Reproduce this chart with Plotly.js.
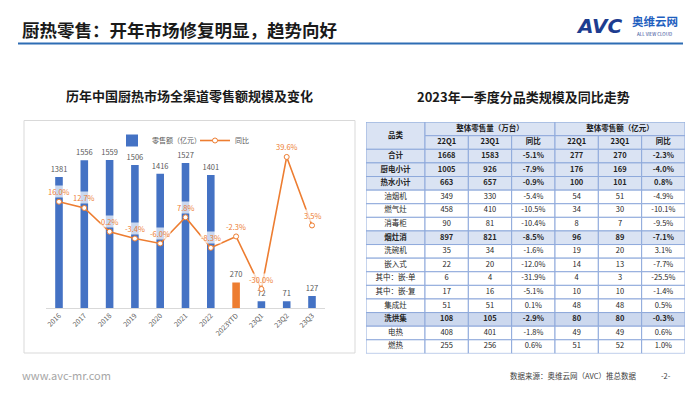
<!DOCTYPE html>
<html><head><meta charset="utf-8">
<script src="https://cdn.plot.ly/plotly-3.0.1.min.js"></script>
<style>html,body{margin:0;padding:0;background:#fff}#chart{width:700px;height:394px}</style>
</head><body><div id="chart"></div>
<script>
// ---------- chart data ----------
const periods = ['2016','2017','2018','2019','2020','2021','2022','2023YTD','23Q1','23Q2','23Q3'];
const retailSales = [1381,1556,1559,1506,1416,1527,1401,270,72,71,127];
const yoyGrowth = [0.160,0.127,0.002,-0.034,-0.060,0.078,-0.083,-0.023,-0.300,0.396,0.035];

// ---------- table data ----------
const tableCategories = ['合计','厨电小计','热水小计','油烟机','燃气灶','消毒柜','烟灶消','洗碗机','嵌入式','其中：嵌-单','其中：嵌-复','集成灶','洗烘集','电热','燃热'];
const volume22Q1 = [1668,1005,663,349,458,90,897,35,22,6,17,51,108,408,255];
const volume23Q1 = [1583,926,657,330,410,81,821,34,20,4,16,51,105,401,256];
const volumeYoY  = [-5.1,-7.9,-0.9,-5.4,-10.5,-10.4,-8.5,-1.6,-12.0,-31.9,-5.1,0.1,-2.9,-1.8,0.6];
const amount22Q1 = [277,176,100,54,34,8,96,19,14,4,10,48,80,49,51];
const amount23Q1 = [270,169,101,51,30,7,89,20,13,3,10,48,80,49,52];
const amountYoY  = [-2.3,-4.0,0.8,-4.9,-10.1,-9.5,-7.1,3.1,-7.7,-25.5,-1.4,0.5,-0.3,0.6,1.0];
const headerGroups = ['整体零售量（万台）','整体零售额（亿元）'];
const subHeaders = ['22Q1','23Q1','同比'];
const firstHeader = '品类';

// ---------- styling ----------
const W = 700, H = 394;
const fx = x => x / W, fy = y => 1 - y / H;
const FONT = '"Noto Sans CJK SC", "Noto Sans", sans-serif';
const BLUE = '#4472C4', ORANGE = '#ED7D31';
const highlightRows = new Set(['合计','厨电小计','热水小计','烟灶消','洗烘集']);
const strongRow = '洗烘集';
const HEAD_FILL = '#DAE3F3', HI_FILL = '#DAE3F3', STRONG_FILL = '#CCD8EE', BORDER = '#8EA9DB';
const colWidths = [59,43.33,43.33,43.33,43.33,43.33,43.33];
const colEdges = [0]; colWidths.forEach(w => colEdges.push(colEdges[colEdges.length-1] + w));

const pct = v => v.toFixed(1) + '%';

// ---------- chart traces ----------
const barTrace = {
  type:'bar', x:periods, y:retailSales, name:'零售额（亿元）',
  marker:{color: periods.map(p => p === '2023YTD' ? ORANGE : BLUE)},
  text: retailSales.map(String), textposition:'outside', cliponaxis:false, constraintext:'none',
  textfont:{size:7.5, color:'#595959', family:FONT}, hoverinfo:'skip'
};
const lineTrace = {
  type:'scatter', mode:'lines+markers', x:periods, y:yoyGrowth, yaxis:'y2', name:'同比',
  line:{color:ORANGE, width:1.6},
  marker:{symbol:'circle', size:5, color:'#ffffff', line:{color:ORANGE, width:1}},
  cliponaxis:false, hoverinfo:'skip'
};

// ---------- table traces (cells placed through hidden axes x2/y3) ----------
const columns = [
  tableCategories.map(String),
  volume22Q1.map(String), volume23Q1.map(String), volumeYoY.map(pct),
  amount22Q1.map(String), amount23Q1.map(String), amountYoY.map(pct)
];
const cellX = [], cellY = [], cellText = [];
tableCategories.forEach((cat, r) => {
  columns.forEach((col, c) => {
    cellX.push((colEdges[c] + colEdges[c+1]) / 2);
    cellY.push(r + 2.5);
    cellText.push(highlightRows.has(cat) ? '<b>' + col[r] + '</b>' : col[r]);
  });
});
const cellTrace = {
  type:'scatter', mode:'text', x:cellX, y:cellY, text:cellText, xaxis:'x2', yaxis:'y3',
  textposition:'middle center', textfont:{size:7.5, color:'#262626', family:FONT},
  showlegend:false, hoverinfo:'skip', cliponaxis:false
};
const hx = [], hy = [], ht = [];
hx.push((colEdges[0]+colEdges[1])/2); hy.push(1); ht.push('<b>'+firstHeader+'</b>');
headerGroups.forEach((g, gi) => {
  hx.push((colEdges[1+gi*3] + colEdges[4+gi*3]) / 2); hy.push(0.5); ht.push('<b>'+g+'</b>');
  subHeaders.forEach((s, si) => {
    const c = 1 + gi*3 + si;
    hx.push((colEdges[c]+colEdges[c+1])/2); hy.push(1.5); ht.push('<b>'+s+'</b>');
  });
});
const headerTrace = {
  type:'scatter', mode:'text', x:hx, y:hy, text:ht, xaxis:'x2', yaxis:'y3',
  textposition:'middle center', textfont:{size:7.5, color:'#1a1a1a', family:FONT},
  showlegend:false, hoverinfo:'skip', cliponaxis:false
};

// ---------- shapes ----------
const shapes = [];
shapes.push({type:'line', xref:'paper', yref:'paper', x0:fx(18), x1:fx(683), y0:fy(43.5), y1:fy(43.5), line:{color:'#2E6DB4', width:2}});
shapes.push({type:'rect', xref:'paper', yref:'paper', x0:fx(24), x1:fx(355), y0:fy(353), y1:fy(120.5), line:{color:'#D9D9D9', width:1}, fillcolor:'rgba(0,0,0,0)', layer:'below'});
const cellRect = (x0,x1,y0,y1,fill) => ({type:'rect', xref:'x2', yref:'y3', x0, x1, y0, y1, fillcolor:fill, line:{color:BORDER, width:1}, layer:'below'});
shapes.push(cellRect(colEdges[0], colEdges[1], 0, 2, HEAD_FILL));
headerGroups.forEach((g, gi) => {
  shapes.push(cellRect(colEdges[1+gi*3], colEdges[4+gi*3], 0, 1, HEAD_FILL));
  subHeaders.forEach((s, si) => {
    const c = 1 + gi*3 + si;
    shapes.push(cellRect(colEdges[c], colEdges[c+1], 1, 2, HEAD_FILL));
  });
});
tableCategories.forEach((cat, r) => {
  const fill = cat === strongRow ? STRONG_FILL : (highlightRows.has(cat) ? HI_FILL : '#FFFFFF');
  for (let c = 0; c < colWidths.length; c++) shapes.push(cellRect(colEdges[c], colEdges[c+1], r+2, r+3, fill));
});

// ---------- annotations ----------
const annotations = [];
periods.forEach((p, i) => {
  annotations.push({x:i, y:yoyGrowth[i], xref:'x', yref:'y2', text:pct(yoyGrowth[i]*100), showarrow:false, yshift:10,
    font:{size:7.5, color:ORANGE, family:FONT}, bgcolor:'rgba(255,255,255,0.72)', borderpad:0});
});
const paperText = (x, y, text, size, color, extra) => Object.assign({xref:'paper', yref:'paper', x:fx(x), y:fy(y), text, showarrow:false,
  font:{size, color, family:FONT}, xanchor:'center', yanchor:'middle'}, extra || {});
annotations.push(paperText(20, 29, '<b>厨热零售：开年市场修复明显，趋势向好</b>', 17.5, '#1a1a1a', {xanchor:'left'}));
annotations.push(paperText(189, 95, '<b>历年中国厨热市场全渠道零售额规模及变化</b>', 13, '#1a1a1a'));
annotations.push(paperText(523, 96, '<b>2023年一季度分品类规模及同比走势</b>', 13, '#1a1a1a'));
annotations.push(paperText(20, 375, 'www.avc-mr.com', 11, '#A6A6A6', {xanchor:'left'}));
annotations.push(paperText(638, 375, '数据来源：奥维云网（AVC）推总数据', 7.5, '#404040', {xanchor:'right'}));
annotations.push(paperText(666, 375, '-2-', 7.5, '#404040'));
annotations.push(paperText(599, 26, '<b><i>AVC</i></b>', 20, '#1D3C8F', {font:{size:20, color:'#1D3C8F', family:'"DejaVu Sans", sans-serif'}}));
annotations.push(paperText(655, 21, '<b>奥维云网</b>', 11.5, '#1F5FBF'));
annotations.push(paperText(654, 34.5, 'ALL VIEW CLOUD', 4.5, '#1D3C8F'));

const layout = {
  width:W, height:H, margin:{l:0, r:0, t:0, b:0},
  paper_bgcolor:'#ffffff', plot_bgcolor:'rgba(0,0,0,0)',
  font:{family:FONT, color:'#595959'},
  showlegend:true,
  legend:{orientation:'h', x:fx(112), xanchor:'left', y:fy(126), yanchor:'top', entrywidth:38,
    font:{size:7, color:'#595959', family:FONT}, bgcolor:'rgba(0,0,0,0)'},
  bargap:0.7,
  xaxis:{domain:[fx(46.35), fx(324.65)], anchor:'y', type:'category', range:[-0.5, periods.length - 0.5], autorange:false,
    tickangle:-45, tickfont:{size:7, color:'#595959', family:FONT}, showline:true, linecolor:'#D9D9D9', linewidth:1,
    ticks:'', showgrid:false, zeroline:false, fixedrange:true},
  yaxis:{domain:[fy(308), fy(137.2)], range:[0,1800], autorange:false, visible:false, showgrid:false, zeroline:false, fixedrange:true},
  yaxis2:{overlaying:'y', anchor:'x', side:'right', range:[-0.4,0.5], autorange:false, visible:false, showgrid:false, zeroline:false, fixedrange:true},
  xaxis2:{domain:[fx(366), fx(685)], anchor:'y3', range:[0, colEdges[colEdges.length-1]], autorange:false, visible:false, fixedrange:true},
  yaxis3:{domain:[fy(353.4), fy(122.1)], anchor:'x2', range:[tableCategories.length + 2, 0], autorange:false, visible:false, fixedrange:true},
  shapes, annotations
};

Plotly.newPlot('chart', [barTrace, lineTrace, cellTrace, headerTrace], layout, {staticPlot:true, displayModeBar:false});
</script>
</body></html>
